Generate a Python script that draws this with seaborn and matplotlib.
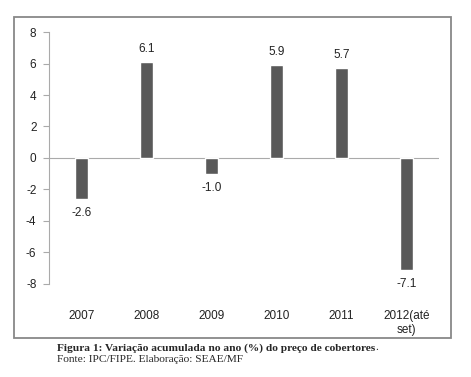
import numpy as np
import pandas as pd
import seaborn as sns
from matplotlib import pyplot as plt
from matplotlib.patches import Rectangle

years = ["2007", "2008", "2009", "2010", "2011", "2012(até\nset)"]
variacao = [-2.6, 6.1, -1.0, 5.9, 5.7, -7.1]
yticks = [-8, -6, -4, -2, 0, 2, 4, 6, 8]

df = pd.DataFrame({"ano": years, "var": variacao})

sns.set_style("white")
plt.rcParams["font.family"] = ["Liberation Sans", "DejaVu Sans"]

fig = plt.figure(figsize=(4.71, 3.77), dpi=100)
ax = fig.add_axes([0.104, 0.247, 0.828, 0.668])

sns.barplot(data=df, x="ano", y="var", color="#595959", width=0.2,
            saturation=1, ax=ax)

ax.set_ylim(-8, 8)
ax.set_yticks(yticks)
ax.set_yticklabels([str(t) for t in yticks], fontsize=8.5, color="#222222")
ax.set_xlabel("")
ax.set_ylabel("")
ax.tick_params(axis="x", length=0, pad=19, labelsize=8.5, labelcolor="#222222")
ax.tick_params(axis="y", length=4, width=0.8, color="#aaaaaa", left=True, pad=5)
for s in ["top", "right", "bottom"]:
    ax.spines[s].set_visible(False)
ax.spines["left"].set_color("#aaaaaa")
ax.spines["left"].set_linewidth(0.8)
ax.axhline(0, color="#aaaaaa", lw=0.8, zorder=0)

for p, v in zip(ax.patches, variacao):
    ax.annotate(f"{v:.1f}", (p.get_x() + p.get_width() / 2, v),
                xytext=(0, 5 if v > 0 else -6), textcoords="offset points",
                ha="center", va="bottom" if v > 0 else "top",
                fontsize=8.5, color="#222222")

# outer frame of the chart
fig.patches.append(Rectangle((0.0297, 0.1034), 0.928, 0.8516,
                             transform=fig.transFigure, fill=False,
                             edgecolor="#888888", lw=1.3))

t1 = fig.text(0.121, 0.077, "Figura 1: Variação acumulada no ano (%) do preço de cobertores",
              family="Liberation Serif", weight="bold", fontsize=8.2, va="center")
fig.canvas.draw()
bb = t1.get_window_extent()
fig.text(bb.x1 / fig.bbox.width, 0.077, ".", family="Liberation Serif",
         fontsize=8.2, va="center")
fig.text(0.121, 0.047, "Fonte: IPC/FIPE. Elaboração: SEAE/MF",
         family="Liberation Serif", fontsize=8.2, va="center")

fig.savefig("out.png", dpi=100)
